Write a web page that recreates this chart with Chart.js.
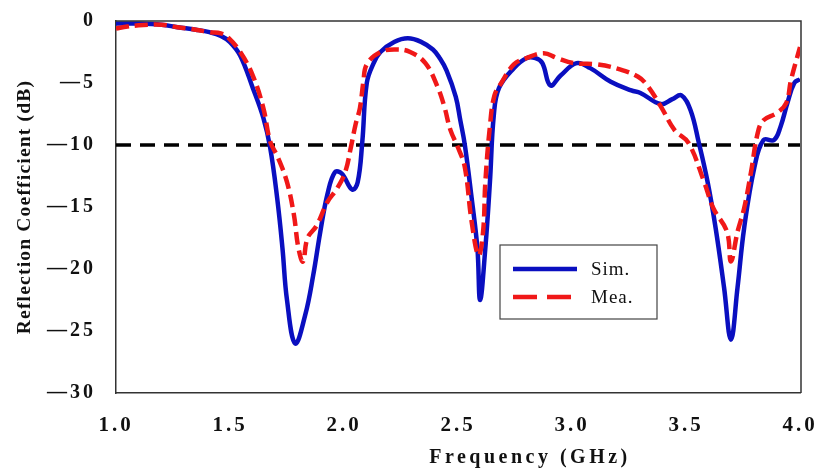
<!DOCTYPE html>
<html>
<head>
<meta charset="utf-8">
<script src="https://cdn.jsdelivr.net/npm/chart.js@4/dist/chart.umd.min.js"></script>
<style>
  html, body { margin: 0; padding: 0; background: #fff; }
  #wrap { width: 816px; height: 472px; }
</style>
</head>
<body>
<div id="wrap"><canvas id="c" width="816" height="472"></canvas></div>
<script>
const simFreq = [1.0, 1.1, 1.2, 1.27, 1.35, 1.41, 1.46, 1.5, 1.545, 1.6, 1.646, 1.676, 1.707, 1.73, 1.75, 1.786,
  1.83, 1.865, 1.896, 1.927, 1.96, 1.99, 2.036, 2.06, 2.08, 2.10, 2.13, 2.16, 2.22, 2.28, 2.34, 2.39, 2.42,
  2.45, 2.49, 2.51, 2.53, 2.56, 2.585, 2.597, 2.62, 2.64, 2.657, 2.68, 2.745, 2.80, 2.84, 2.87, 2.905, 2.95,
  3.02, 3.08, 3.17, 3.26, 3.30, 3.39, 3.44, 3.48, 3.52, 3.556, 3.595, 3.63, 3.667, 3.697, 3.726, 3.755, 3.80,
  3.84, 3.886, 3.915, 3.945, 3.975, 4.0]
const simVals = [-0.2, -0.2, -0.3, -0.5, -0.7, -0.9, -1.2, -1.7, -2.8, -5.4, -7.8, -10.2, -14.3, -18.3, -22.5, -26.0,
  -23.7, -20.5, -17.0, -14.0, -12.2, -12.3, -13.6, -13.0, -9.8, -5.0, -3.4, -2.5, -1.7, -1.4, -1.7, -2.3, -3.0,
  -4.0, -6.1, -8.0, -10.0, -14.3, -18.3, -22.5, -18.3, -13.0, -7.6, -5.4, -3.8, -3.0, -3.0, -3.4, -5.2, -4.4,
  -3.4, -3.8, -4.9, -5.6, -5.8, -6.7, -6.3, -6.0, -7.2, -9.8, -13.0, -16.7, -21.5, -25.7, -21.5, -16.7, -11.8,
  -9.6, -9.6, -8.5, -6.6, -5.0, -4.7]

const meaFreq = [1.0, 1.05, 1.1, 1.2, 1.27, 1.35, 1.41, 1.46, 1.49, 1.545, 1.6, 1.646, 1.676, 1.71, 1.75, 1.78,
  1.80, 1.82, 1.84, 1.88, 1.927, 1.97, 2.005, 2.03, 2.05, 2.07, 2.085, 2.10, 2.16, 2.23, 2.29, 2.357, 2.41, 2.44,
  2.467, 2.50, 2.53, 2.56, 2.59, 2.61, 2.62, 2.64, 2.66, 2.69, 2.745, 2.80, 2.876, 2.935, 3.007, 3.11, 3.21, 3.29,
  3.33, 3.39, 3.45, 3.51, 3.58, 3.62, 3.68, 3.697, 3.726, 3.755, 3.785, 3.815, 3.84, 3.90, 3.94, 3.96, 4.0]
const meaVals = [-0.6, -0.45, -0.35, -0.3, -0.5, -0.7, -0.9, -1.0, -1.3, -2.5, -4.4, -7.0, -9.7, -11.0, -13.0, -15.6,
  -18.3, -19.4, -17.5, -16.5, -14.6, -13.5, -12.2, -10.2, -8.4, -7.0, -4.9, -3.5, -2.5, -2.3, -2.5, -3.4, -5.3, -6.9,
  -8.8, -10.2, -11.8, -16.2, -18.9, -17.0, -13.0, -8.5, -6.0, -5.0, -3.5, -3.0, -2.6, -3.0, -3.4, -3.5, -3.9, -4.5,
  -5.2, -6.9, -8.8, -9.8, -13.0, -15.1, -17.0, -19.4, -17.0, -15.1, -12.2, -9.0, -8.0, -7.4, -6.6, -4.8, -2.1]

const thresholdDb = -10
const xTicks = [1.0, 1.5, 2.0, 2.5, 3.0, 3.5, 4.0]
const yTicks = [0, -5, -10, -15, -20, -25, -30]
const seriesLabels = ['Sim.', 'Mea.']
const xTitle = 'Frequency (GHz)'
const yTitle = 'Reflection Coefficient (dB)'

const toPoints = (xs, ys) => xs.map((x, i) => ({ x, y: ys[i] }))
const minus = v => v < 0 ? '\u2014' + Math.abs(v) : String(v)

const BLUE = '#0a0fc0'
const RED = '#f01818'
const SERIF = "'Liberation Serif', 'Times New Roman', serif"

// frame on top/right, axis titles, and the boxed legend inside the plot
const decorPlugin = {
  id: 'decor',
  beforeDraw(chart) { chart.ctx.letterSpacing = '3px' },
  afterDraw(chart) {
    const { ctx, chartArea: a } = chart
    ctx.save()
    ctx.letterSpacing = '0px'
    ctx.strokeStyle = '#333'
    ctx.lineWidth = 1.5
    ctx.beginPath()
    ctx.moveTo(a.left, a.top); ctx.lineTo(a.right + 1, a.top); ctx.lineTo(a.right + 1, a.bottom)
    ctx.stroke()

    ctx.fillStyle = '#111'
    ctx.font = `bold 20px ${SERIF}`
    ctx.letterSpacing = '3.5px'
    ctx.textAlign = 'center'
    ctx.textBaseline = 'middle'
    ctx.fillText(xTitle, 530, 458)

    ctx.translate(25, (a.top + a.bottom) / 2)
    ctx.rotate(-Math.PI / 2)
    ctx.font = `bold 19.5px ${SERIF}`
    ctx.letterSpacing = '1.2px'
    ctx.fillText(yTitle, 0, 0)
    ctx.restore()

    // legend
    ctx.save()
    ctx.letterSpacing = '1px'
    const lx = 500, ly = 245, lw = 157, lh = 74
    ctx.fillStyle = '#fff'
    ctx.fillRect(lx, ly, lw, lh)
    ctx.strokeStyle = '#444'
    ctx.lineWidth = 1.2
    ctx.strokeRect(lx, ly, lw, lh)
    const entries = [chart.data.datasets[1], chart.data.datasets[0]]
    entries.forEach((ds, i) => {
      const yy = ly + 24 + i * 28
      ctx.strokeStyle = ds.borderColor
      ctx.lineWidth = ds.borderWidth
      ctx.setLineDash(i === 1 ? [24, 10] : [])
      ctx.beginPath(); ctx.moveTo(lx + 13, yy); ctx.lineTo(lx + 77, yy); ctx.stroke()
      ctx.setLineDash([])
      ctx.fillStyle = '#111'
      ctx.font = `19px ${SERIF}`
      ctx.textAlign = 'left'
      ctx.textBaseline = 'middle'
      ctx.fillText(ds.label, lx + 91, yy + 1)
    })
    ctx.restore()
  }
}

new Chart(document.getElementById('c'), {
  type: 'line',
  data: {
    datasets: [
      {
        label: seriesLabels[1],
        data: toPoints(meaFreq, meaVals),
        borderColor: RED,
        borderWidth: 4.5,
        borderDash: [13, 6],
        pointRadius: 0,
        tension: 0.4
      },
      {
        label: seriesLabels[0],
        data: toPoints(simFreq, simVals),
        borderColor: BLUE,
        borderWidth: 4.5,
        pointRadius: 0,
        tension: 0.4
      },
      {
        label: '-10 dB',
        data: toPoints([xTicks[0], xTicks[xTicks.length - 1]], [thresholdDb, thresholdDb]),
        borderColor: '#000',
        borderWidth: 3.5,
        borderDash: [15, 9],
        pointRadius: 0
      }
    ]
  },
  options: {
    responsive: false,
    animation: false,
    layout: { padding: { left: 0, right: 16, top: 21, bottom: 0 } },
    plugins: { legend: { display: false }, tooltip: { enabled: false } },
    scales: {
      x: {
        type: 'linear',
        min: 1, max: 4,
        afterBuildTicks: s => { s.ticks = xTicks.map(v => ({ value: v })) },
        afterFit: s => { s.height = 79; s.paddingLeft = 0; s.paddingRight = 0 },
        grid: { display: false, drawOnChartArea: false, drawTicks: true, tickLength: 7, tickColor: '#333' },
        border: { display: true, color: '#333', width: 1.5 },
        ticks: {
          color: '#111', padding: 13,
          font: { family: SERIF, size: 21, weight: 'bold' },
          callback: v => v.toFixed(1)
        }
      },
      y: {
        min: -30, max: 0,
        afterBuildTicks: s => { s.ticks = yTicks.map(v => ({ value: v })) },
        afterFit: s => { s.width = 116; s.paddingTop = 0; s.paddingBottom = 0 },
        grid: { display: false, drawOnChartArea: false, drawTicks: true, tickLength: 8, tickColor: '#333' },
        border: { display: true, color: '#333', width: 1.5 },
        ticks: {
          color: '#111', padding: 12,
          font: { family: SERIF, size: 20, weight: 'bold' },
          callback: v => minus(v)
        }
      }
    }
  },
  plugins: [decorPlugin]
})
</script>
</body>
</html>
